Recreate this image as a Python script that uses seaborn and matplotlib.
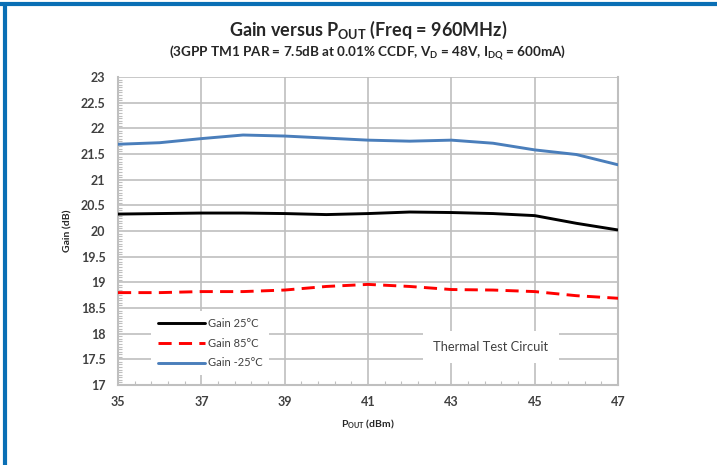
import numpy as np
import pandas as pd
import matplotlib.pyplot as plt
import seaborn as sns
from matplotlib.lines import Line2D
from matplotlib.ticker import MultipleLocator, FormatStrFormatter

# values (Pout in dBm, gain in dB)
pout = [35, 36, 37, 38, 39, 40, 41, 42, 43, 44, 45, 46, 47]
gain_25 = [20.33, 20.34, 20.35, 20.35, 20.34, 20.32, 20.34, 20.37, 20.36, 20.34, 20.30, 20.15, 20.02]
gain_85 = [18.80, 18.80, 18.82, 18.82, 18.85, 18.92, 18.96, 18.92, 18.86, 18.85, 18.82, 18.74, 18.69]
gain_m25 = [21.69, 21.72, 21.80, 21.87, 21.85, 21.81, 21.77, 21.75, 21.77, 21.71, 21.58, 21.49, 21.29]
series_names = ['Gain 25°C', 'Gain 85°C', 'Gain -25°C']
x_ticks = [35, 37, 39, 41, 43, 45, 47]

df = pd.DataFrame({
    'Pout': pout * 3,
    'Gain': gain_25 + gain_85 + gain_m25,
    'series': [s for s in series_names for _ in pout],
})

sns.set_style('white')
plt.rcParams['font.family'] = ['Lato', 'DejaVu Sans']
plt.rcParams['mathtext.fontset'] = 'custom'
plt.rcParams['mathtext.rm'] = 'Lato:bold'
plt.rcParams['mathtext.default'] = 'rm'

fig = plt.figure(figsize=(7.17, 4.65), dpi=100)
ax = fig.add_axes([0.1646, 0.172, 0.6974, 0.6624])

palette = {'Gain 25°C': 'black', 'Gain 85°C': '#ff0000', 'Gain -25°C': '#4a7ebb'}
dashes = {'Gain 25°C': '', 'Gain 85°C': (4.5, 2.5), 'Gain -25°C': ''}
sns.lineplot(data=df, x='Pout', y='Gain', hue='series', style='series',
             palette=palette, dashes=dashes, linewidth=2.1, ax=ax, zorder=3)

ax.set_xlim(35, 47)
ax.set_ylim(17, 23)
ax.set_xticks(x_ticks)
ax.set_xticks(np.arange(35, 47.01, 0.4), minor=True)
ax.yaxis.set_major_locator(MultipleLocator(0.5))
ax.yaxis.set_minor_locator(MultipleLocator(0.05))
ax.yaxis.set_major_formatter(FormatStrFormatter('%g'))
ax.grid(True, which='major', color='#bfbfbf', linewidth=1.2, zorder=0)
for sp in ['left', 'bottom', 'right']:
    ax.spines[sp].set_color('#bfbfbf')
    ax.spines[sp].set_linewidth(1.5)
ax.spines['top'].set_visible(False)
ax.tick_params(which='major', length=0, labelsize=9, labelcolor='#404040')
ax.tick_params(axis='y', which='major', pad=9)
ax.tick_params(axis='x', which='major', pad=8)
ax.tick_params(which='minor', direction='in', length=3, width=0.8, color='#bfbfbf')
ax.tick_params(axis='x', which='minor', top=False, bottom=True)
ax.tick_params(axis='y', which='minor', left=True, right=False)
for lbl in ax.get_xticklabels() + ax.get_yticklabels():
    lbl.set_fontweight('bold')

ax.set_xlabel(r'P$_{\mathregular{OUT}}$ (dBm)', fontsize=7.5, fontweight='bold', color='#262626', labelpad=7)
ax.set_ylabel('Gain (dB)', fontsize=7.5, fontweight='bold', color='#262626', labelpad=6)

leg = ax.legend(loc='lower left', bbox_to_anchor=(0.066, 0.032), borderaxespad=0,
                frameon=True, fancybox=False, edgecolor='none', facecolor='white',
                fontsize=8, handlelength=4.3, handletextpad=0.2, labelspacing=0.8,
                borderpad=0.6)
leg.get_frame().set_alpha(1)
for t in leg.get_texts():
    t.set_color('#404040')

ax.text(43.95, 17.74, 'Thermal Test Circuit', ha='center', va='center', fontsize=9.3,
        color='#404040', zorder=4,
        bbox=dict(boxstyle='square,pad=0.8', facecolor='white', edgecolor='none'))

fig.text(0.513, 0.936, r'Gain versus P$_{\mathregular{OUT}}$ (Freq = 960MHz)', ha='center', va='center',
         fontsize=13, fontweight='bold', color='#262626')
fig.text(0.513, 0.886, r'(3GPP TM1 PAR = 7.5dB at 0.01% CCDF, V$_{\mathregular{D}}$ = 48V, I$_{\mathregular{DQ}}$ = 600mA)',
         ha='center', va='center', fontsize=9.7, fontweight='bold', color='#262626')

# blue frame along top and left edges
fig.add_artist(Line2D([0, 1], [0.992, 0.992], transform=fig.transFigure, color='#0a6fb5', linewidth=3))
fig.add_artist(Line2D([0.0063, 0.0063], [0, 0.992], transform=fig.transFigure, color='#0a6fb5', linewidth=3))

fig.savefig('out.png', dpi=100)
